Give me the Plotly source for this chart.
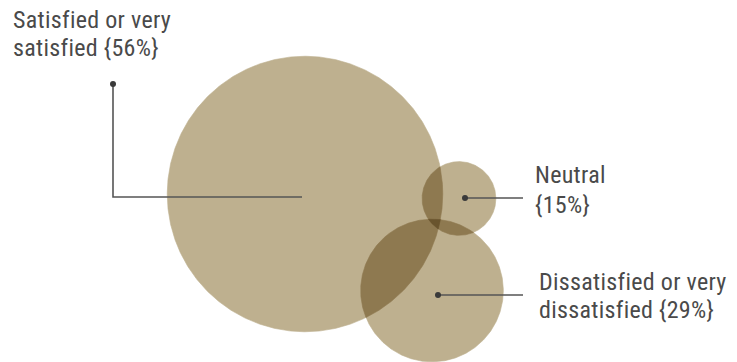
import numpy as np
import plotly.graph_objects as go

# ---- data ----
categories = ["Satisfied or very satisfied", "Neutral", "Dissatisfied or very dissatisfied"]
label_lines = [["Satisfied or very", "satisfied {56%}"], ["Neutral", "{15%}"], ["Dissatisfied or very", "dissatisfied {29%}"]]
values = [56, 15, 29]

# ---- layout (pixel-like plot coordinates) ----
W, H = 737, 362
SCALE = 2.46  # radius units per percentage point
centers = [(305, 194), (459, 198.5), (432, 290.5)]
leader_paths = [
    [(113, 84), (113, 197), (302, 197)],
    [(465, 198), (523, 198)],
    [(438, 295), (523, 295)],
]
label_x = [11, 533, 537]
label_line_mid = [[20.3, 48], [175.3, 205.3], [282, 309.7]]
BASELINE_SHIFT = 8
BASE = np.array([190, 176, 143], dtype=float)
TEXT = "#4a4a4a"
FONT = "Roboto Condensed, DejaVu Sans Condensed, sans-serif"
FONT_SIZE = 24
LETTER_SPACING = "0.3px"


def circle_poly(c, r, n=720):
    t = np.linspace(0, 2 * np.pi, n, endpoint=False)
    return [(c[0] + r * np.cos(a), c[1] + r * np.sin(a)) for a in t]


def clip(subject, clipper):
    # Sutherland-Hodgman, clipper convex
    area = sum(clipper[i][0] * clipper[(i + 1) % len(clipper)][1] - clipper[(i + 1) % len(clipper)][0] * clipper[i][1]
               for i in range(len(clipper)))
    sgn = 1 if area > 0 else -1

    def inside(p, a, b):
        return sgn * ((b[0] - a[0]) * (p[1] - a[1]) - (b[1] - a[1]) * (p[0] - a[0])) >= 0

    def inter(p, q, a, b):
        x1, y1 = p; x2, y2 = q; x3, y3 = a; x4, y4 = b
        d = (x1 - x2) * (y3 - y4) - (y1 - y2) * (x3 - x4)
        if abs(d) < 1e-12:
            return q
        t = ((x1 - x3) * (y3 - y4) - (y1 - y3) * (x3 - x4)) / d
        return (x1 + t * (x2 - x1), y1 + t * (y2 - y1))

    out = subject
    for i in range(len(clipper)):
        a, b = clipper[i], clipper[(i + 1) % len(clipper)]
        inp = out
        out = []
        if not inp:
            break
        s = inp[-1]
        for e in inp:
            if inside(e, a, b):
                if not inside(s, a, b):
                    out.append(inter(s, e, a, b))
                out.append(e)
            elif inside(s, a, b):
                out.append(inter(s, e, a, b))
            s = e
    return out


def col(k):
    c = BASE * (BASE / 255.0) ** (k - 1)
    return "rgb(%d,%d,%d)" % tuple(np.round(c))


fig = go.Figure()
polys = [circle_poly(c, v * SCALE) for c, v in zip(centers, values)]


def add_poly(p, k):
    if len(p) < 3:
        return
    xs = [q[0] for q in p] + [p[0][0]]
    ys = [q[1] for q in p] + [p[0][1]]
    fig.add_trace(go.Scatter(x=xs, y=ys, mode="lines", fill="toself", fillcolor=col(k),
                             line=dict(width=0.6, color=col(k)), hoverinfo="skip", showlegend=False))


for p in polys:
    add_poly(p, 1)
for i in range(3):
    for j in range(i + 1, 3):
        add_poly(clip(polys[i], polys[j]), 2)
add_poly(clip(clip(polys[0], polys[1]), polys[2]), 3)

# leader lines and dots
for path in leader_paths:
    fig.add_trace(go.Scatter(x=[p[0] for p in path], y=[p[1] for p in path], mode="lines",
                             line=dict(color="#555555", width=1.6), hoverinfo="skip", showlegend=False))
    fig.add_trace(go.Scatter(x=[path[0][0]], y=[path[0][1]], mode="markers",
                             marker=dict(color="#3a3a3a", size=6), hoverinfo="skip", showlegend=False))

for lines, x, mids in zip(label_lines, label_x, label_line_mid):
    for line, ym in zip(lines, mids):
        fig.add_annotation(x=x, y=ym, xref="x", yref="y",
                           text='<span style="letter-spacing:%s">%s</span>' % (LETTER_SPACING, line),
                           showarrow=False, xanchor="left", yanchor="middle", align="left",
                           font=dict(family=FONT, size=FONT_SIZE, color=TEXT))

fig.update_layout(
    width=W, height=H, margin=dict(l=0, r=0, t=0, b=0),
    paper_bgcolor="white", plot_bgcolor="white",
    xaxis=dict(range=[0, W], visible=False, fixedrange=True),
    yaxis=dict(range=[H, 0], visible=False, fixedrange=True),
)
fig.write_html("out.html")
